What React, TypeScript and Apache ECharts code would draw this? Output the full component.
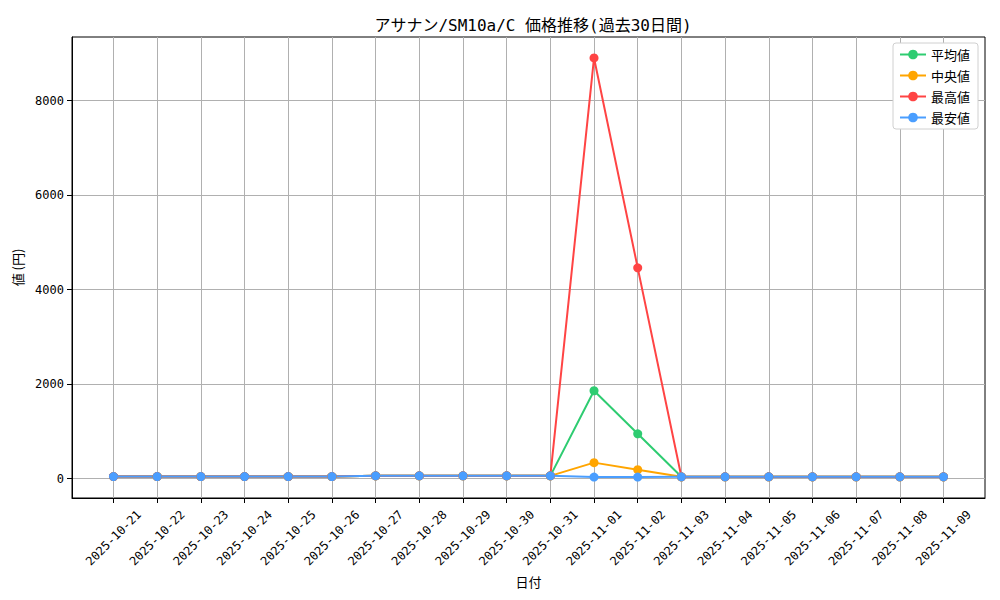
import React, { useEffect, useRef } from "react";
import * as echarts from "echarts";

const dates = [
  "2025-10-21", "2025-10-22", "2025-10-23", "2025-10-24", "2025-10-25",
  "2025-10-26", "2025-10-27", "2025-10-28", "2025-10-29", "2025-10-30",
  "2025-10-31", "2025-11-01", "2025-11-02", "2025-11-03", "2025-11-04",
  "2025-11-05", "2025-11-06", "2025-11-07", "2025-11-08", "2025-11-09",
];
const avgValues = [45, 45, 45, 45, 45, 45, 60, 60, 60, 60, 60, 1860, 950, 40, 40, 40, 40, 40, 40, 40];
const medianValues = [45, 45, 45, 45, 45, 45, 60, 60, 60, 60, 60, 340, 190, 40, 40, 40, 40, 40, 40, 40];
const maxValues = [45, 45, 45, 45, 45, 45, 60, 60, 60, 60, 60, 8900, 4460, 40, 40, 40, 40, 40, 40, 40];
const minValues = [45, 45, 45, 45, 45, 45, 60, 60, 60, 60, 60, 35, 35, 40, 40, 40, 40, 40, 40, 40];
const yTicks = [0, 2000, 4000, 6000, 8000];

const SERIES = [
  { name: "平均値", data: avgValues, color: "#2ecc71" },
  { name: "中央値", data: medianValues, color: "#ffa500" },
  { name: "最高値", data: maxValues, color: "#ff4444" },
  { name: "最安値", data: minValues, color: "#4a9eff" },
];

const MONO = "'DejaVu Sans Mono', 'Noto Sans CJK JP', sans-serif";
const CJK = "'Noto Sans CJK JP', sans-serif";

const App: React.FC = () => {
  const chartRef = useRef<HTMLDivElement>(null);

  useEffect(() => {
    if (!chartRef.current) return;
    document.body.style.margin = "0";

    const chart = echarts.init(chartRef.current, undefined, { renderer: "svg" });

    const all = SERIES.flatMap((s) => s.data);
    const lo = Math.min(...all);
    const hi = Math.max(...all);
    const pad = (hi - lo) * 0.05;
    const xIdx = dates.map((_, i) => i);

    const option = {
      animation: false,
      title: {
        text: "アサナン/SM10a/C 価格推移(過去30日間)",
        left: 528,
        top: 12,
        textAlign: "center",
        textStyle: { fontFamily: MONO, fontSize: 16, fontWeight: "normal", color: "#000" },
      },
      legend: {
        orient: "vertical",
        right: 22,
        top: 43,
        itemWidth: 26,
        itemHeight: 12,
        itemGap: 8,
        padding: [5, 8, 5, 6],
        backgroundColor: "#fff",
        borderColor: "#d0d0d0",
        borderWidth: 1,
        borderRadius: 3,
        textStyle: { fontFamily: CJK, fontSize: 13, color: "#000" },
        data: SERIES.map((s) => s.name),
      },
      grid: {
        left: 72,
        right: 15,
        top: 37,
        bottom: 102,
        show: true,
        borderColor: "#000",
        borderWidth: 1,
      },
      xAxis: {
        type: "value",
        min: -0.95,
        max: dates.length - 1 + 0.95,
        minInterval: 1,
        maxInterval: 1,
        name: "日付",
        nameLocation: "middle",
        nameGap: 74,
        nameTextStyle: { fontFamily: CJK, fontSize: 13, color: "#000" },
        axisLine: { onZero: false, lineStyle: { color: "#000" } },
        axisTick: { length: 5, lineStyle: { color: "#000" }, customValues: xIdx },
        axisLabel: {
          rotate: 45,
          margin: 40,
          align: "center",
          verticalAlign: "middle",
          fontFamily: MONO,
          fontSize: 12,
          color: "#000",
          customValues: xIdx,
          formatter: (v: number) => dates[Math.round(v)] ?? "",
        },
        splitLine: { show: true, lineStyle: { color: "#b0b0b0", width: 1 } },
      },
      yAxis: {
        type: "value",
        min: lo - pad,
        max: hi + pad,
        minInterval: 2000,
        maxInterval: 2000,
        name: "値 (円)",
        nameLocation: "middle",
        nameGap: 46,
        nameRotate: 90,
        nameTextStyle: { fontFamily: CJK, fontSize: 13, color: "#000" },
        axisLine: { show: true, onZero: false, lineStyle: { color: "#000" } },
        axisTick: { show: true, length: 5, lineStyle: { color: "#000" }, customValues: yTicks },
        axisLabel: {
          margin: 8,
          fontFamily: MONO,
          fontSize: 12,
          color: "#000",
          customValues: yTicks,
          formatter: (v: number) => String(v),
        },
        splitLine: { show: true, lineStyle: { color: "#b0b0b0", width: 1 } },
      },
      series: SERIES.map((s) => ({
        name: s.name,
        type: "line",
        data: s.data.map((v, i) => [i, v]),
        symbol: "circle",
        symbolSize: 9,
        showAllSymbol: true,
        color: s.color,
        lineStyle: { color: s.color, width: 2 },
        itemStyle: { color: s.color },
      })),
    };

    chart.setOption(option);

    return () => {
      chart.dispose();
    };
  }, []);

  return <div ref={chartRef} style={{ width: "1000px", height: "600px" }} />;
};

export default App;
